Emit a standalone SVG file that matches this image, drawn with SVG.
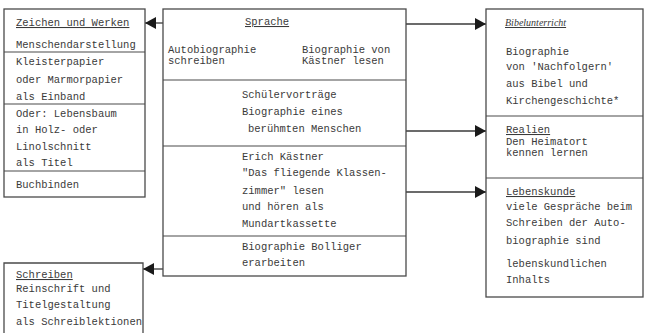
<svg xmlns="http://www.w3.org/2000/svg" width="647" height="333" viewBox="0 0 647 333">
<defs>
<style>
.box{fill:none;stroke:#4a4a4a;stroke-width:1.3}
.div{stroke:#4a4a4a;stroke-width:1.2}
.t{font-family:"Liberation Mono","DejaVu Sans Mono",monospace;font-size:10.5px;fill:#3a3a3a}
.u{text-decoration:underline}
.hw{font-family:"Liberation Serif",serif;font-style:italic;font-size:10px;fill:#3a3a3a;text-decoration:underline}
.c{stroke:#3a3a3a;stroke-width:1.3;fill:none}
</style>
<marker id="ah" viewBox="0 0 11 12" refX="11" refY="6" markerWidth="11" markerHeight="12" markerUnits="userSpaceOnUse" orient="auto">
<path d="M0,0 L11,6 L0,12 Z" fill="#1a1a1a"/>
</marker>
</defs>
<rect width="647" height="333" fill="#ffffff"/>

<g id="connectors">
<line class="c" x1="163" y1="23" x2="145" y2="23" marker-end="url(#ah)"/>
<line class="c" x1="163" y1="269" x2="143" y2="269" marker-end="url(#ah)"/>
<line class="c" x1="406" y1="24" x2="486" y2="24" marker-end="url(#ah)"/>
<line class="c" x1="406" y1="131" x2="486" y2="131" marker-end="url(#ah)"/>
<line class="c" x1="406" y1="192" x2="486" y2="192" marker-end="url(#ah)"/>
</g>

<g id="zeichen">
<rect class="box" x="4" y="9" width="141" height="188"/>
<line class="div" x1="4" y1="52" x2="145" y2="52"/>
<line class="div" x1="4" y1="104" x2="145" y2="104"/>
<line class="div" x1="4" y1="171" x2="145" y2="171"/>
<text class="t u" x="16" y="26">Zeichen und Werken</text>
<text class="t" x="16" y="48">Menschendarstellung</text>
<text class="t" x="16" y="65">Kleisterpapier</text>
<text class="t" x="16" y="83">oder Marmorpapier</text>
<text class="t" x="16" y="100">als Einband</text>
<text class="t" x="16" y="117">Oder: Lebensbaum</text>
<text class="t" x="16" y="133">in Holz- oder</text>
<text class="t" x="16" y="150">Linolschnitt</text>
<text class="t" x="16" y="166">als Titel</text>
<text class="t" x="16" y="188">Buchbinden</text>
</g>

<g id="schreiben">
<path class="box" d="M4,333 L4,263 L143,263 L143,333"/>
<text class="t u" x="16" y="278">Schreiben</text>
<text class="t" x="16" y="292">Reinschrift und</text>
<text class="t" x="16" y="308">Titelgestaltung</text>
<text class="t" x="16" y="325">als Schreiblektionen</text>
</g>

<g id="sprache">
<rect class="box" x="163" y="9" width="243" height="267"/>
<line class="div" x1="163" y1="80" x2="406" y2="80"/>
<line class="div" x1="163" y1="146" x2="406" y2="146"/>
<line class="div" x1="163" y1="236" x2="406" y2="236"/>
<text class="t u" x="245" y="25">Sprache</text>
<text class="t" x="168" y="53">Autobiographie</text>
<text class="t" x="168" y="64">schreiben</text>
<text class="t" x="302" y="53">Biographie von</text>
<text class="t" x="302" y="64">Kästner lesen</text>
<text class="t" x="242" y="98">Schülervorträge</text>
<text class="t" x="242" y="115">Biographie eines</text>
<text class="t" x="248" y="132">berühmten Menschen</text>
<text class="t" x="242" y="160">Erich Kästner</text>
<text class="t" x="242" y="176">"Das fliegende Klassen-</text>
<text class="t" x="242" y="194">zimmer" lesen</text>
<text class="t" x="242" y="210">und hören als</text>
<text class="t" x="242" y="227">Mundartkassette</text>
<text class="t" x="242" y="250">Biographie Bolliger</text>
<text class="t" x="242" y="266">erarbeiten</text>
</g>

<g id="bibel">
<rect class="box" x="486" y="9" width="157" height="288"/>
<line class="div" x1="486" y1="116" x2="643" y2="116"/>
<line class="div" x1="486" y1="178" x2="643" y2="178"/>
<text class="hw" x="505" y="26">Bibelunterricht</text>
<text class="t" x="506" y="55">Biographie</text>
<text class="t" x="506" y="70">von 'Nachfolgern'</text>
<text class="t" x="506" y="87">aus Bibel und</text>
<text class="t" x="506" y="104">Kirchengeschichte*</text>
</g>

<g id="realien">
<text class="t u" x="506" y="133">Realien</text>
<text class="t" x="506" y="145">Den Heimatort</text>
<text class="t" x="506" y="156">kennen lernen</text>
</g>

<g id="lebenskunde">
<text class="t u" x="506" y="195">Lebenskunde</text>
<text class="t" x="506" y="210">viele Gespräche beim</text>
<text class="t" x="506" y="226">Schreiben der Auto-</text>
<text class="t" x="506" y="244">biographie sind</text>
<text class="t" x="506" y="267">lebenskundlichen</text>
<text class="t" x="506" y="283">Inhalts</text>
</g>
</svg>
